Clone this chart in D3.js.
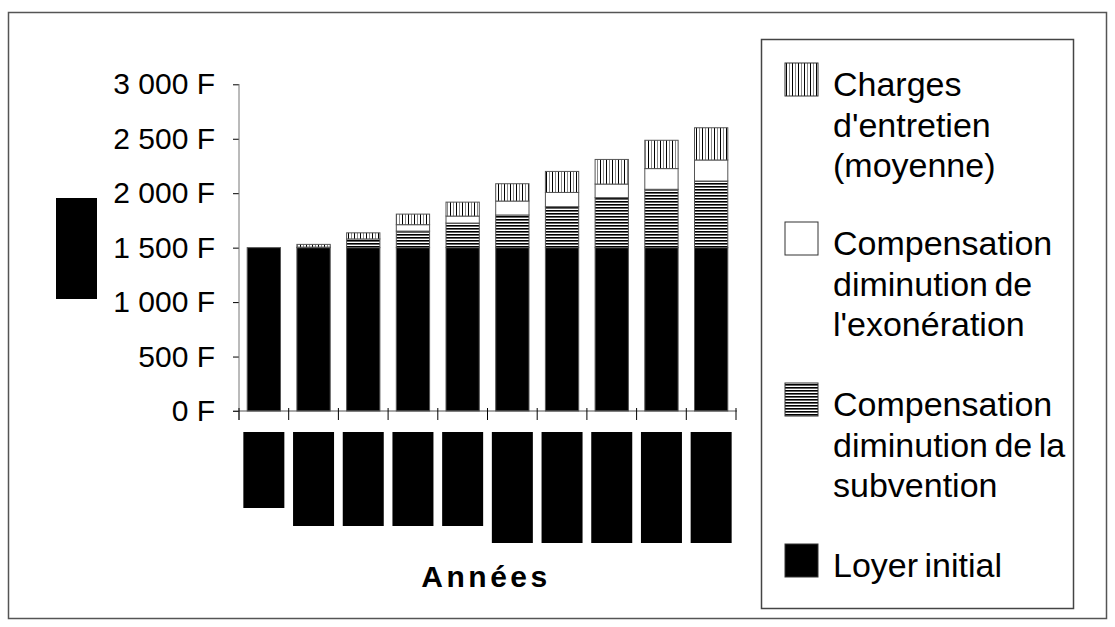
<!DOCTYPE html>
<html>
<head>
<meta charset="utf-8">
<script src="https://cdn.jsdelivr.net/npm/d3@7"></script>
<style>
  body { margin: 0; background: #fff; }
  svg { display: block; }
  text { font-family: "Liberation Sans", Arial, sans-serif; fill: #000; }
</style>
</head>
<body>
<svg id="chart" width="1115" height="627"></svg>
<script>
// Years (labels are masked in the published figure)
const years = ["1", "2", "3", "4", "5", "6", "7", "8", "9", "10"];

// Monthly amounts in francs, stacked bottom to top
const loyerInitial     = [1500, 1500, 1500, 1500, 1500, 1500, 1500, 1500, 1500, 1500];
const compSubvention   = [0, 5, 80, 152, 226, 300, 376, 459, 536, 612];
const compExoneration  = [0, 0, 0, 59, 64, 128, 131, 125, 190, 193];
const chargesEntretien = [0, 25, 56, 97, 128, 159, 193, 226, 260, 296];

const yTicks = [0, 500, 1000, 1500, 2000, 2500, 3000];

const seriesKeys = ["loyer", "subvention", "exoneration", "charges"];
const legendLines = {
  charges: ["Charges", "d'entretien", "(moyenne)"],
  exoneration: ["Compensation", "diminution de", "l'exonération"],
  subvention: ["Compensation", "diminution de la", "subvention"],
  loyer: ["Loyer initial"]
};
const legendOrder = ["charges", "exoneration", "subvention", "loyer"];
const xTitle = "Années";

const rows = years.map((y, i) => ({
  year: y,
  loyer: loyerInitial[i],
  subvention: compSubvention[i],
  exoneration: compExoneration[i],
  charges: chargesEntretien[i]
}));

const svg = d3.select("#chart");

// Fill patterns
const defs = svg.append("defs");
const hp = defs.append("pattern").attr("id", "hstripes")
  .attr("patternUnits", "userSpaceOnUse").attr("width", 4).attr("height", 3);
hp.append("rect").attr("width", 4).attr("height", 3).attr("fill", "#fff");
hp.append("rect").attr("width", 4).attr("height", 1.6).attr("fill", "#000");

const vp = defs.append("pattern").attr("id", "vstripes")
  .attr("patternUnits", "userSpaceOnUse").attr("width", 6).attr("height", 4);
vp.append("rect").attr("width", 6).attr("height", 4).attr("fill", "#fff");
vp.append("rect").attr("x", 0).attr("width", 1).attr("height", 4).attr("fill", "#000");
vp.append("rect").attr("x", 3).attr("width", 1).attr("height", 4).attr("fill", "#8a8a8a");

const fills = {
  loyer: "#000",
  subvention: "url(#hstripes)",
  exoneration: "#fff",
  charges: "url(#vstripes)"
};

// Outer frame
svg.append("rect")
  .attr("x", 8.5).attr("y", 12.5).attr("width", 1098).attr("height", 606)
  .attr("fill", "none").attr("stroke", "#555").attr("stroke-width", 1.5);

// Scales
const x = d3.scaleBand().domain(years).range([239, 736])
  .paddingInner(0.33).paddingOuter(0.165);
const y = d3.scaleLinear().domain([0, 3000]).range([411, 84.3]);

// Bars
const stacked = d3.stack().keys(seriesKeys)(rows);
svg.append("g").selectAll("g").data(stacked).join("g")
  .attr("fill", d => fills[d.key])
  .selectAll("rect").data(d => d.filter(p => p[1] - p[0] > 0)).join("rect")
  .attr("x", d => x(d.data.year))
  .attr("width", x.bandwidth())
  .attr("y", d => y(d[1]))
  .attr("height", d => y(d[0]) - y(d[1]))
  .attr("stroke", "#555").attr("stroke-width", 1);

// Y axis
const fr = d3.formatLocale({ decimal: ",", thousands: "\u00a0", grouping: [3], currency: ["", "\u00a0F"] });
const fmt = fr.format("$,");
const yAxis = svg.append("g").attr("transform", "translate(239,0)")
  .call(d3.axisLeft(y).tickValues(yTicks).tickSize(6).tickPadding(18).tickFormat(fmt));
yAxis.select(".domain").remove();
yAxis.selectAll(".tick line").attr("stroke", "#000");
yAxis.selectAll(".tick text")
  .style("font-family", "'Liberation Sans', Arial, sans-serif")
  .attr("font-size", 30).attr("fill", "#000");
svg.append("line").attr("x1", 239).attr("x2", 239).attr("y1", 84).attr("y2", 420)
  .attr("stroke", "#777").attr("stroke-width", 1);

// X axis
svg.append("line").attr("x1", 233).attr("x2", 737).attr("y1", 411).attr("y2", 411)
  .attr("stroke", "#555").attr("stroke-width", 1);
const boundaries = years.map(d => x(d) - x.step() * x.paddingInner() / 2).concat([736]);
svg.append("g").selectAll("line").data(boundaries).join("line")
  .attr("x1", d => d).attr("x2", d => d).attr("y1", 408).attr("y2", 420)
  .attr("stroke", "#000").attr("stroke-width", 1);

// Masked year labels under the axis
const labelBoxHeights = [76, 94, 94, 94, 94, 111, 111, 111, 111, 111];
svg.append("g").selectAll("rect").data(years).join("rect")
  .attr("x", d => x(d) + x.bandwidth() / 2 - 20.5)
  .attr("y", 432)
  .attr("width", 41)
  .attr("height", (d, i) => labelBoxHeights[i])
  .attr("fill", "#000");

// Masked y-axis title
svg.append("rect").attr("x", 56).attr("y", 198).attr("width", 41).attr("height", 101).attr("fill", "#000");

// X title
svg.append("text")
  .attr("x", 486).attr("y", 587)
  .attr("text-anchor", "middle")
  .attr("font-size", 30).attr("font-weight", "bold")
  .attr("letter-spacing", 3.5)
  .text(xTitle);

// Legend
svg.append("rect")
  .attr("x", 761.5).attr("y", 39.5).attr("width", 312).attr("height", 569)
  .attr("fill", "none").attr("stroke", "#444").attr("stroke-width", 1.5);

const firstBaselines = { charges: 96, exoneration: 255, subvention: 416, loyer: 577 };
const lineStep = 40.5;
const lg = svg.append("g").selectAll("g").data(legendOrder).join("g");
lg.append("rect")
  .attr("x", 785).attr("y", d => firstBaselines[d] - 33)
  .attr("width", 33).attr("height", 33)
  .attr("fill", d => fills[d]).attr("stroke", "#333").attr("stroke-width", 1);
lg.each(function (k) {
  const t = d3.select(this).append("text")
    .attr("x", 833).attr("y", firstBaselines[k])
    .attr("font-size", 34).attr("word-spacing", -3);
  legendLines[k].forEach((line, i) => {
    t.append("tspan").attr("x", 833).attr("y", firstBaselines[k] + i * lineStep).text(line);
  });
});
</script>
</body>
</html>
